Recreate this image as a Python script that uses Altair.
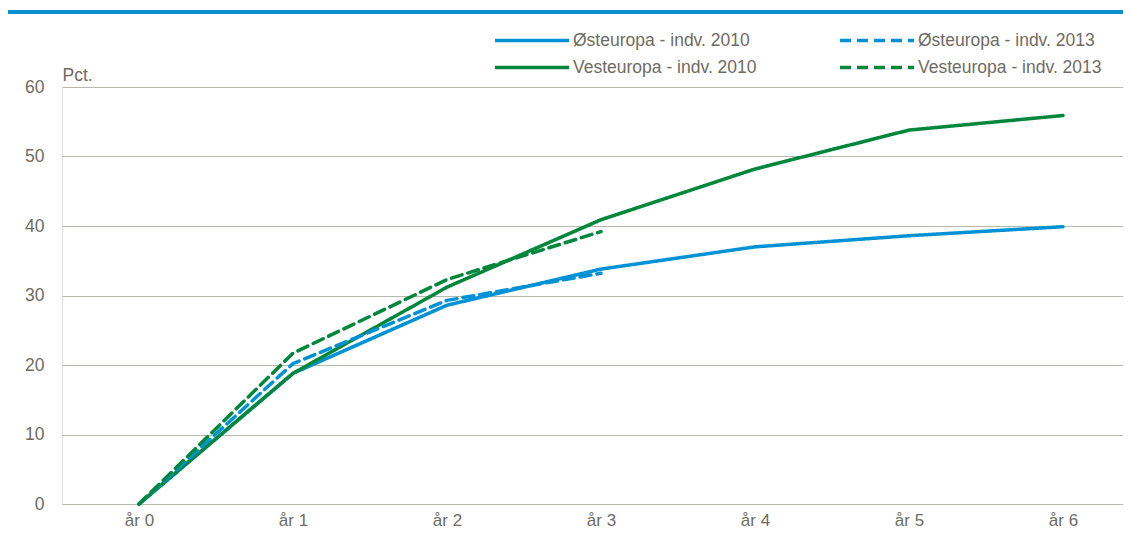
import altair as alt
import pandas as pd

years = ["år 0", "år 1", "år 2", "år 3", "år 4", "år 5", "år 6"]
# legend is filled column by column: first column holds the 2010 series
series = ["Østeuropa - indv. 2010", "Vesteuropa - indv. 2010",
          "Østeuropa - indv. 2013", "Vesteuropa - indv. 2013"]
oest_2010 = [0, 18.8, 28.6, 33.8, 37.0, 38.6, 39.9]
vest_2010 = [0, 18.8, 31.2, 40.9, 48.2, 53.8, 55.9]
oest_2013 = [0, 20.2, 29.3, 33.2]
vest_2013 = [0, 21.7, 32.3, 39.2]
y_ticks = [0, 10, 20, 30, 40, 50, 60]

colors = ["#0092d5", "#00873c", "#0092d5", "#00873c"]
dashes = [[1, 0], [1, 0], [11, 6], [11, 6]]

rows = []
for name, vals in zip(series, [oest_2010, vest_2010, oest_2013, vest_2013]):
    for i, v in enumerate(vals):
        rows.append({"serie": name, "idx": i, "aar": years[i], "pct": v})
df = pd.DataFrame(rows)

FONT = "Liberation Sans"
TXT = "#6e6c62"
GRID = "#b9b8aa"
label_expr = "[" + ",".join("'%s'" % y for y in years) + "][datum.value]"


def make_legend():
    return alt.Legend(title=None, orient="none", legendX=431, legendY=-58,
                      columns=2, columnPadding=76, rowPadding=7,
                      symbolType="M-1,0H6.8", symbolSize=361,
                      symbolStrokeWidth=3.5, symbolFillColor="transparent",
                      labelOffset=57, labelFontSize=17.5, labelColor=TXT,
                      labelFont=FONT, labelLimit=400)


lines = alt.Chart(df).mark_line(strokeWidth=3.5, strokeCap="round", strokeJoin="round").encode(
    x=alt.X("idx:Q", title=None,
            scale=alt.Scale(domain=[-0.5, 6.3896], nice=False, zero=False),
            axis=alt.Axis(values=list(range(len(years))), labelExpr=label_expr,
                          labelAngle=0, domain=False, ticks=False, grid=False,
                          labelPadding=8, labelFontSize=17, labelColor=TXT, labelFont=FONT)),
    y=alt.Y("pct:Q", title="Pct.",
            scale=alt.Scale(domain=[0, 60], nice=False),
            axis=alt.Axis(values=y_ticks, domain=False, ticks=False, grid=True,
                          gridColor=GRID, gridWidth=1.2,
                          labelPadding=18, labelFontSize=17.5, labelColor=TXT, labelFont=FONT,
                          titleAngle=0, titleX=0, titleY=-7, titleAlign="left",
                          titleBaseline="alphabetic", titleFontSize=17.5, titleFontWeight="normal",
                          titleColor=TXT, titleFont=FONT)),
    color=alt.Color("serie:N", sort=series,
                    scale=alt.Scale(domain=series, range=colors),
                    legend=make_legend()),
    strokeDash=alt.StrokeDash("serie:N", sort=series,
                              scale=alt.Scale(domain=series, range=dashes),
                              legend=make_legend()),
    order=alt.Order("idx:Q"),
)

top_rule = alt.Chart(df).mark_rule(color="#0a8fd0", strokeWidth=2.5).encode(
    x=alt.value(-54), x2=alt.value(1061), y=alt.value(-75)
)

chart = alt.layer(top_rule, lines).properties(
    width=1061, height=417,
    autosize=alt.AutoSizeParams(type="none"),
    padding={"left": 54, "top": 79, "right": 0, "bottom": 26},
).configure_view(stroke=None).configure(font=FONT)

chart.save("out.html", embed_options={"renderer": "svg", "actions": False})
